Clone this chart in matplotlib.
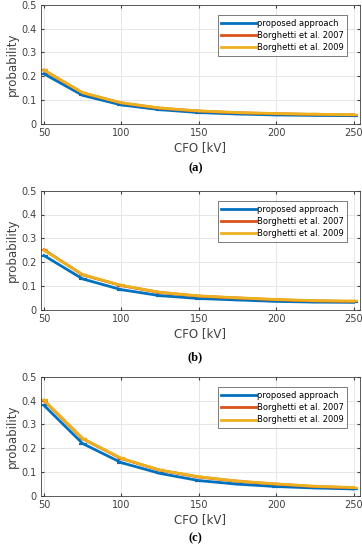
import numpy as np
import matplotlib.pyplot as plt
from matplotlib.lines import Line2D

# datos
cfo = [50, 75, 100, 125, 150, 175, 200, 225, 250]

prop_a = [0.210, 0.120, 0.080, 0.060, 0.048, 0.042, 0.038, 0.036, 0.035]
b07_a = [0.225, 0.130, 0.088, 0.066, 0.054, 0.047, 0.043, 0.040, 0.038]
b09_a = [0.226, 0.131, 0.089, 0.067, 0.055, 0.048, 0.044, 0.041, 0.039]

prop_b = [0.228, 0.130, 0.085, 0.060, 0.048, 0.042, 0.036, 0.033, 0.032]
b07_b = [0.252, 0.147, 0.102, 0.073, 0.058, 0.050, 0.043, 0.038, 0.036]
b09_b = [0.250, 0.148, 0.103, 0.074, 0.059, 0.051, 0.044, 0.039, 0.037]

prop_c = [0.380, 0.220, 0.140, 0.095, 0.065, 0.050, 0.040, 0.034, 0.030]
b07_c = [0.400, 0.240, 0.157, 0.108, 0.080, 0.062, 0.050, 0.040, 0.035]
b09_c = [0.402, 0.241, 0.158, 0.109, 0.081, 0.063, 0.051, 0.041, 0.036]

etiquetas = ["proposed approach", "Borghetti et al. 2007", "Borghetti et al. 2009"]
colores = ["#0072BD", "#D95319", "#EDB120"]
paneles = [
    ("(a)", [prop_a, b07_a, b09_a]),
    ("(b)", [prop_b, b07_b, b09_b]),
    ("(c)", [prop_c, b07_c, b09_c]),
]

# posiciones de los ejes en fraccion de figura
bottoms = [0.7745, 0.4364, 0.098]
captions_y = [0.683, 0.340, 0.010]

fig = plt.figure(figsize=(3.62, 5.5), dpi=100)

for (letra, series), bot, cy in zip(paneles, bottoms, captions_y):
    ax = fig.add_axes([0.113, bot, 0.881, 0.217])
    for serie, col in zip(series, colores):
        ax.errorbar(cfo, serie, yerr=np.zeros(len(serie)), color=col, lw=2,
                    capsize=3, capthick=1.5)
    ax.set_xlim(48, 254)
    ax.set_ylim(0, 0.5)
    ax.set_xticks([50, 100, 150, 200, 250])
    ax.set_yticks([0, 0.1, 0.2, 0.3, 0.4, 0.5])
    ax.set_yticklabels(["0", "0.1", "0.2", "0.3", "0.4", "0.5"])
    ax.grid(True, color="#e3e3e3", lw=0.6)
    ax.tick_params(direction="in", labelsize=7, colors="#404040", length=2.5,
                   top=True, right=True, pad=3)
    for s in ax.spines.values():
        s.set_color("#404040")
        s.set_linewidth(0.6)
    ax.set_xlabel("CFO [kV]", fontsize=8.5, color="#404040", labelpad=2)
    ax.set_ylabel("probability", fontsize=8.5, color="#404040", labelpad=2)
    handles = [Line2D([], [], color=c, lw=2) for c in colores]
    leg = ax.legend(handles, etiquetas, loc="upper right", fontsize=6,
                    frameon=True, fancybox=False, handlelength=4.2,
                    borderpad=0.4, labelspacing=0.4, borderaxespad=0,
                    bbox_to_anchor=(0.96, 0.91), handletextpad=0.1)
    leg.get_frame().set_edgecolor("#404040")
    leg.get_frame().set_linewidth(0.6)
    fig.text(0.54, cy, letra, ha="center", va="bottom", fontsize=9,
             family="Liberation Serif", fontweight="bold")

fig.savefig("out.png", dpi=100)
